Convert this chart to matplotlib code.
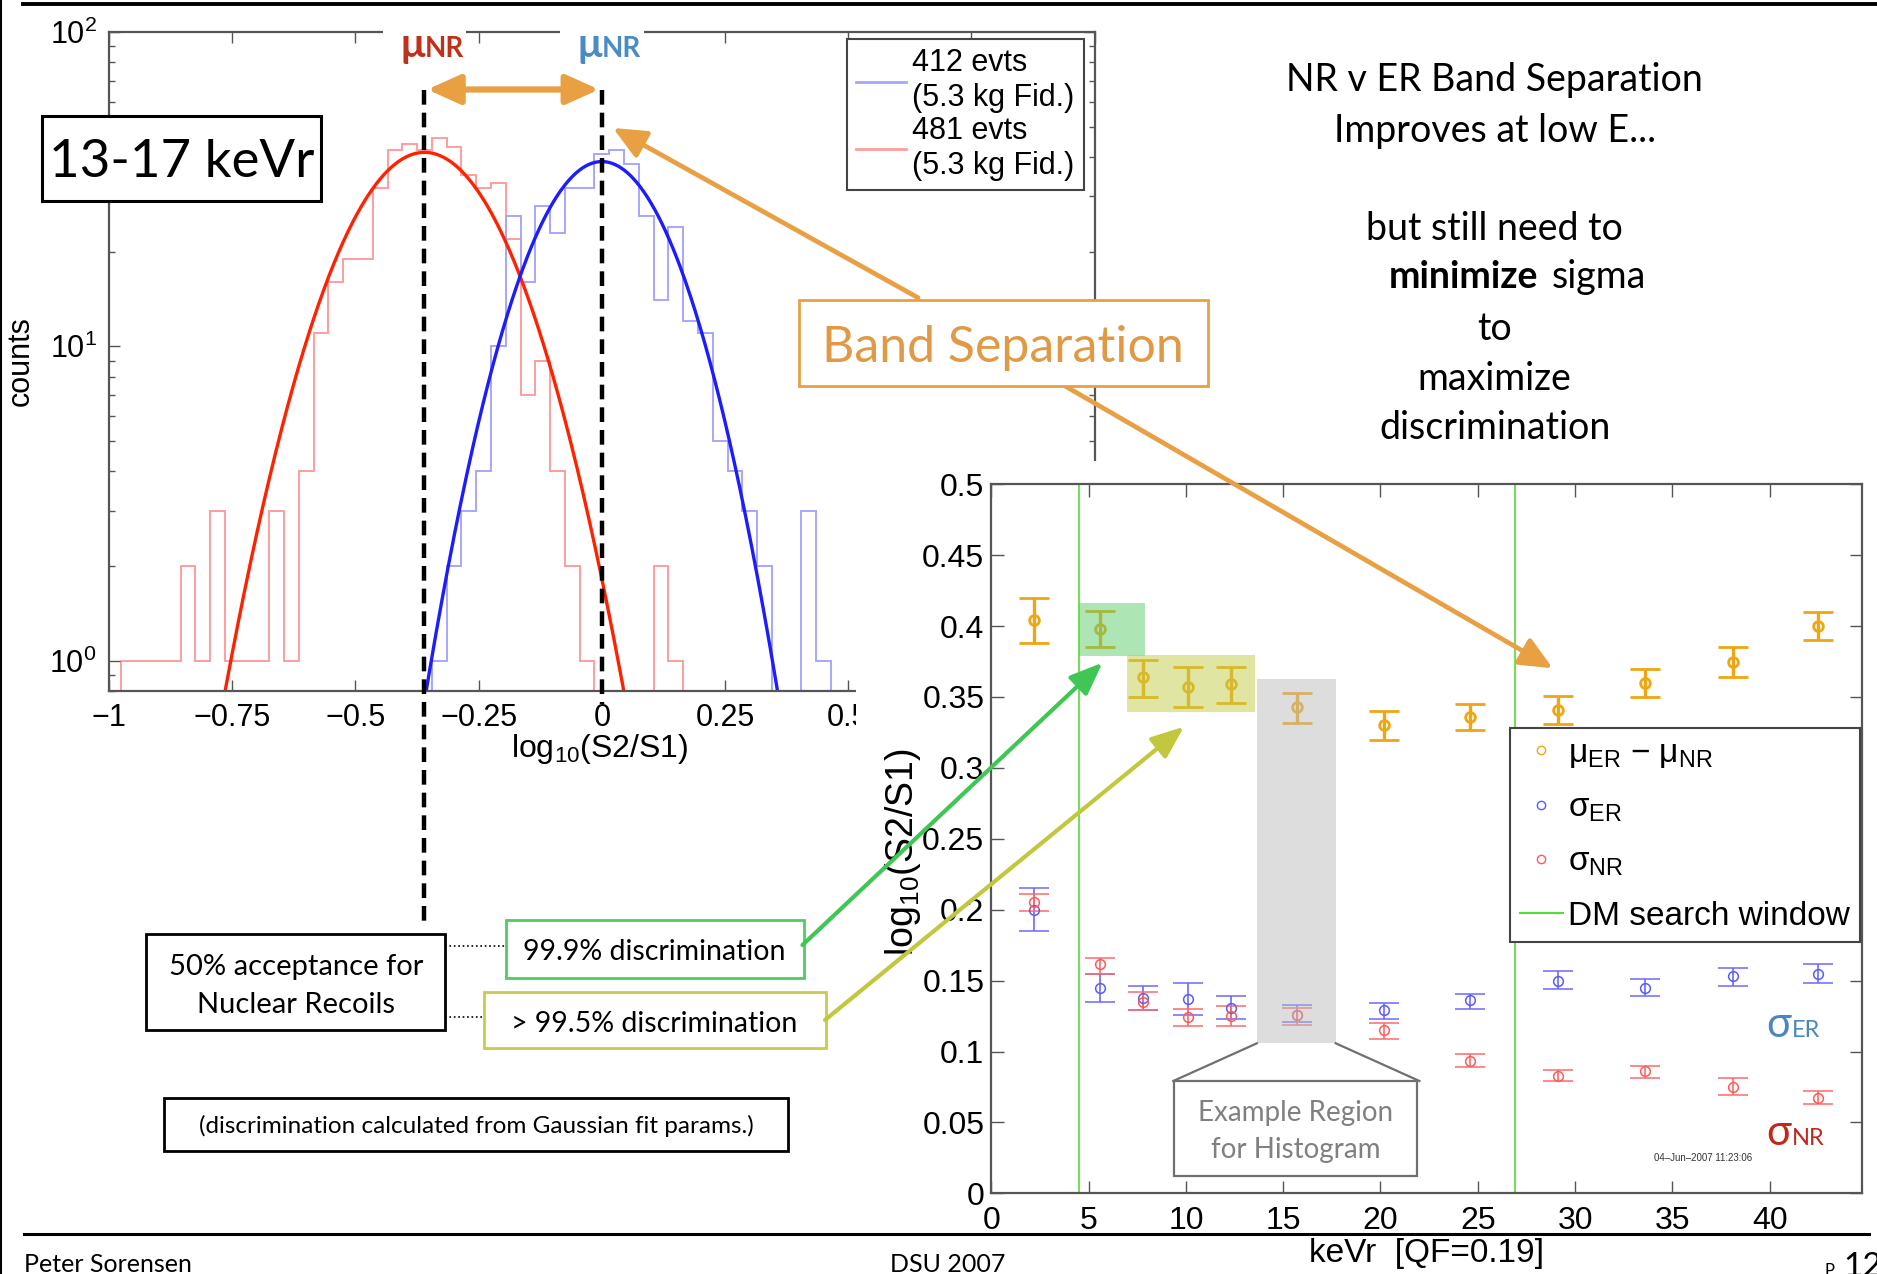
import matplotlib.pyplot as plt
import matplotlib.transforms as mtransforms
import numpy as np
from matplotlib.lines import Line2D
from matplotlib.patches import FancyArrowPatch, Rectangle
from matplotlib.ticker import FormatStrFormatter, NullFormatter

plt.rcParams['font.family'] = ['Liberation Sans', 'DejaVu Sans']
plt.rcParams['mathtext.fontset'] = 'custom'
plt.rcParams['mathtext.rm'] = 'Liberation Sans'
plt.rcParams['mathtext.it'] = 'Liberation Sans:italic'
plt.rcParams['mathtext.bf'] = 'Liberation Sans:bold'
SLIDE_FONT = ['Lato', 'DejaVu Sans']

# 13-17 keVr histogram of log10(S2/S1), 0.03 wide bins
bin_start = -0.975
bin_width = 0.03
nr_first_bin = 0
nr_counts = [1, 1, 1, 1, 2, 1, 3, 1, 1, 1, 3, 1, 4, 11, 16, 19, 19, 32, 42, 44,
             42, 46, 43, 35, 32, 33, 22, 7, 9, 4, 2, 1, 0, 0, 0, 0, 2, 1]
er_first_bin = 21
er_counts = [1, 2, 3, 4, 10, 26, 16, 28, 23, 32, 32, 41, 42, 38, 26, 14, 24,
             12, 11, 5, 4, 3, 2, 0, 0, 3, 1]
# gaussian fits: amplitude, mean, sigma
nr_fit = (41.4, -0.36, 0.144)
er_fit = (38.7, 0.0, 0.128)

# band separation vs recoil energy
energy = [2.2, 5.6, 7.8, 10.1, 12.3, 15.7, 20.2, 24.6, 29.1, 33.6, 38.1, 42.5]
sep = [0.404, 0.398, 0.364, 0.357, 0.359, 0.343, 0.330, 0.336, 0.341, 0.360, 0.375, 0.400]
sep_hi = [0.420, 0.411, 0.376, 0.371, 0.371, 0.353, 0.340, 0.345, 0.351, 0.370, 0.385, 0.410]
sep_lo = [0.388, 0.385, 0.350, 0.343, 0.346, 0.332, 0.320, 0.327, 0.331, 0.350, 0.364, 0.390]
sig_er = [0.200, 0.145, 0.1375, 0.137, 0.131, 0.126, 0.129, 0.136, 0.150, 0.145, 0.153, 0.155]
sig_er_hi = [0.215, 0.1545, 0.146, 0.1485, 0.139, 0.133, 0.134, 0.1405, 0.157, 0.151, 0.159, 0.162]
sig_er_lo = [0.185, 0.135, 0.129, 0.126, 0.123, 0.121, 0.123, 0.130, 0.144, 0.139, 0.146, 0.1485]
sig_nr = [0.2057, 0.162, 0.135, 0.124, 0.125, 0.126, 0.115, 0.093, 0.083, 0.086, 0.075, 0.067]
sig_nr_hi = [0.211, 0.166, 0.142, 0.130, 0.132, 0.131, 0.120, 0.098, 0.087, 0.090, 0.081, 0.072]
sig_nr_lo = [0.199, 0.155, 0.129, 0.118, 0.118, 0.119, 0.109, 0.089, 0.079, 0.081, 0.069, 0.063]
dm_window = [4.5, 26.9]
example_bin = [13.65, 17.7]

ORANGE = '#e9a043'
ERR_ORANGE = '#eea612'
GRAY_SPINE = '#555555'

W, H = 1877, 1274


def fx(x):
    return x / W


def fy(y):
    return 1 - y / H


def gauss(x, amp, mu, sig):
    return amp * np.exp(-(x - mu) ** 2 / (2 * sig ** 2))


fig = plt.figure(figsize=(W / 100, H / 100), dpi=100)
fig.patch.set_facecolor('white')

# ---------------- histogram panel ----------------
ax1 = fig.add_axes([fx(109.1), fy(691), (1094.6 - 109.1) / W, (691 - 32) / H])
ax1.set_yscale('log')
nr_edges = bin_start + bin_width * (nr_first_bin + np.arange(len(nr_counts) + 1))
er_edges = bin_start + bin_width * (er_first_bin + np.arange(len(er_counts) + 1))
ax1.stairs(nr_counts, nr_edges, baseline=0, color='#ff9d9d', lw=1.4)
ax1.stairs(er_counts, er_edges, baseline=0, color='#a6a6ff', lw=1.4)
xs = np.linspace(-1, 1, 800)
ax1.plot(xs, gauss(xs, *nr_fit), color='#ff2200', lw=2.4)
ax1.plot(xs, gauss(xs, *er_fit), color='#1c1cff', lw=2.4)
ax1.set_xlim(-1, 1.0)
ax1.set_ylim(0.8, 100)
# the labels past 0.5 sit under the separation panel, so they are left blank
ax1.set_xticks([-1, -0.75, -0.5, -0.25, 0, 0.25, 0.5, 0.75, 1])
ax1.set_xticklabels(['\u22121', '\u22120.75', '\u22120.5', '\u22120.25', '0', '0.25', '0.5', '', ''])
ax1.yaxis.set_minor_formatter(NullFormatter())
ax1.tick_params(which='both', direction='in', top=True, right=True, labelsize=22, width=1.0,
                color=GRAY_SPINE)
ax1.tick_params(which='major', length=8)
ax1.tick_params(which='minor', length=4)
ax1.tick_params(axis='x', pad=9)
ax1.tick_params(axis='y', pad=9)
for s in ax1.spines.values():
    s.set_color(GRAY_SPINE)
    s.set_linewidth(1.6)
ax1.set_ylabel('counts', fontsize=22)
ax1.yaxis.set_label_coords(-0.074, 0.5)
ax1.set_xlabel('log$_{10}$(S2/S1)', fontsize=23)
ax1.xaxis.set_label_coords(0.498, -0.062)
leg1 = ax1.legend([Line2D([], [], color='#a6a6ff', lw=2), Line2D([], [], color='#ff9d9d', lw=2)],
                  ['412 evts\n(5.3 kg Fid.)', '481 evts\n(5.3 kg Fid.)'],
                  loc='upper left', bbox_to_anchor=(fx(846.6), fy(39.3)), bbox_transform=fig.transFigure,
                  borderaxespad=0, fontsize=22, handlelength=1.65, handletextpad=0.2, borderpad=0.3,
                  labelspacing=0.1, fancybox=False, framealpha=1, edgecolor='#444444')
leg1.get_frame().set_linewidth(1.5)
ax1.set_zorder(0)

# white backing for the separation panel
fig.add_artist(Rectangle((fx(856), 0), 1 - fx(856), fy(461), transform=fig.transFigure,
                         facecolor='white', edgecolor='none', zorder=0.5))

# ---------------- band separation panel ----------------
ax2 = fig.add_axes([fx(991.3), fy(1193.3), (1862.5 - 991.3) / W, (1193.3 - 484.3) / H])
ax2.set_zorder(1)
ax2.patch.set_alpha(0)
for xv in dm_window:
    ax2.axvline(xv, color='#55dd33', lw=1.2, zorder=1)


def err(vals, lo, hi):
    v = np.array(vals)
    return [v - np.array(lo), np.array(hi) - v]


ax2.errorbar(energy, sig_er, yerr=err(sig_er, sig_er_lo, sig_er_hi), fmt='o', mfc='none',
             mec='#5a5aff', ecolor='#6a6aff', ms=7, mew=1.1, lw=1.2, capsize=11, capthick=1.5, zorder=3)
ax2.errorbar(energy, sig_nr, yerr=err(sig_nr, sig_nr_lo, sig_nr_hi), fmt='o', mfc='none',
             mec='#ff5a5a', ecolor='#ff6a6a', ms=7, mew=1.1, lw=1.2, capsize=11, capthick=1.5, zorder=3)
ax2.errorbar(energy, sep, yerr=err(sep, sep_lo, sep_hi), fmt='o', mfc='none',
             mec=ERR_ORANGE, ecolor=ERR_ORANGE, ms=7, mew=2.0, lw=2.4, capsize=11, capthick=2.6, zorder=4)
ax2.set_xlim(0, 44.77)
ax2.set_ylim(0, 0.5)
ax2.set_xticks(np.arange(0, 45, 5))
ax2.set_yticks(np.arange(0, 0.501, 0.05))
ax2.yaxis.set_major_formatter(FormatStrFormatter('%g'))
ax2.tick_params(direction='in', top=True, right=True, labelsize=23, length=9, width=1.0,
                color=GRAY_SPINE)
ax2.tick_params(axis='x', pad=9)
ax2.tick_params(axis='y', pad=5)
for s in ax2.spines.values():
    s.set_color(GRAY_SPINE)
    s.set_linewidth(1.6)
ax2.set_xlabel('keVr  [QF=0.19]', fontsize=24)
ax2.xaxis.set_label_coords(0.5, -0.063)
ax2.set_ylabel('log$_{10}$(S2/S1)', fontsize=27)
ax2.yaxis.set_label_coords(-0.078, 0.481)
handles2 = [Line2D([], [], ls='none', marker='o', mfc='none', mec=ERR_ORANGE, ms=6, mew=1),
            Line2D([], [], ls='none', marker='o', mfc='none', mec='#5a5aff', ms=6, mew=1),
            Line2D([], [], ls='none', marker='o', mfc='none', mec='#ff5a5a', ms=6, mew=1),
            Line2D([], [], color='#55dd33', lw=1.5)]
labels2 = ['\u03bc$_{\\rm ER}$ \u2212 \u03bc$_{\\rm NR}$', '\u03c3$_{\\rm ER}$', '\u03c3$_{\\rm NR}$',
           'DM search window']
leg2 = ax2.legend(handles2, labels2, loc='upper left', bbox_to_anchor=(fx(1509.5), fy(728)),
                  bbox_transform=fig.transFigure, borderaxespad=0, fontsize=24, handlelength=1.3,
                  handletextpad=0.15, borderpad=0.3, labelspacing=0.68, fancybox=False,
                  framealpha=1, edgecolor='#444444')
leg2.get_frame().set_linewidth(1.5)

fig.text(fx(1703), fy(1158), '04\u2013Jun\u20132007 11:23:06', fontsize=7, color='#333333',
         ha='center', va='center', zorder=3)

# ---------------- slide overlays ----------------
blend = mtransforms.blended_transform_factory(ax1.transData, fig.transFigure)
blend2 = mtransforms.blended_transform_factory(ax2.transData, fig.transFigure)

# white gaps in the top frame around the mean labels, then the labels
for mu, col in [(nr_fit[1], '#c0311c'), (er_fit[1], '#4a8bc4')]:
    fig.add_artist(Rectangle((mu - 0.085, fy(62)), 0.17, fy(18) - fy(62), transform=blend,
                             facecolor='white', edgecolor='none', zorder=0.6))
    fig.text(mu, fy(57), '\u03bc', transform=blend, fontsize=29, fontweight='bold', color=col,
             ha='right', va='baseline', family=SLIDE_FONT, zorder=5)
    fig.text(mu, fy(57), 'NR', transform=blend, fontsize=20, fontweight='bold', color=col,
             ha='left', va='baseline', family=SLIDE_FONT, zorder=5)

# dashed lines marking the two fitted means
fig.add_artist(Line2D([nr_fit[1]] * 2, [fy(89.5), fy(927)], transform=blend, color='black',
                      lw=3.2, ls=(0, (3.3, 1.8)), zorder=4))
fig.add_artist(Line2D([er_fit[1]] * 2, [fy(89.5), fy(704)], transform=blend, color='black',
                      lw=3.2, ls=(0, (3.3, 1.8)), zorder=4))
fig.add_artist(FancyArrowPatch((nr_fit[1], fy(89.5)), (er_fit[1], fy(89.5)), transform=blend,
                               arrowstyle='<|-|>,head_length=20,head_width=9', mutation_scale=1,
                               color=ORANGE, lw=4.5, shrinkA=2, shrinkB=2, zorder=5))

# energy-range tag
fig.add_artist(Rectangle((fx(42), fy(201)), fx(321) - fx(42), fy(115.7) - fy(201),
                         transform=fig.transFigure, facecolor='white', edgecolor='black',
                         lw=2.2, zorder=5))
fig.text(fx(181.5), fy(177), '13-17 keVr', fontsize=38, ha='center', va='baseline',
         family=SLIDE_FONT, zorder=6)

# Band Separation callout
fig.add_artist(Rectangle((fx(798.5), fy(386)), fx(1207.7) - fx(798.5), fy(300) - fy(386),
                         transform=fig.transFigure, facecolor='white', edgecolor=ORANGE,
                         lw=2.0, zorder=6))
fig.text(fx(1003), fy(361.7), 'Band Separation', fontsize=36, color='#e09a45', ha='center',
         va='baseline', family=SLIDE_FONT, zorder=7)
fig.add_artist(FancyArrowPatch((fx(918), fy(297.7)), (fx(613), fy(128)), transform=fig.transFigure,
                               arrowstyle='-|>,head_length=20,head_width=9', mutation_scale=1,
                               color=ORANGE, lw=3.4, shrinkA=0, shrinkB=0, zorder=5))
fig.add_artist(FancyArrowPatch((fx(1065), fy(386)), (fx(1552.7), fy(668.3)), transform=fig.transFigure,
                               arrowstyle='-|>,head_length=20,head_width=9', mutation_scale=1,
                               color=ORANGE, lw=3.4, shrinkA=0, shrinkB=0, zorder=5))

# highlighted energy bins and the example histogram bin
fig.add_artist(Rectangle((fx(1079), fy(655.7)), fx(1145) - fx(1079), fy(603.3) - fy(655.7),
                         transform=fig.transFigure, facecolor='#5ccc6c', alpha=0.5,
                         edgecolor='none', zorder=2))
fig.add_artist(Rectangle((fx(1126.7), fy(711.7)), fx(1255) - fx(1126.7), fy(655.3) - fy(711.7),
                         transform=fig.transFigure, facecolor='#c2cc44', alpha=0.5,
                         edgecolor='none', zorder=2))
fig.add_artist(Rectangle((example_bin[0], fy(1043.3)), example_bin[1] - example_bin[0],
                         fy(679) - fy(1043.3), transform=blend2, facecolor='#bdbdbd', alpha=0.5,
                         edgecolor='none', zorder=2))
fig.add_artist(Line2D([example_bin[0], example_bin[0] - 4.3], [fy(1043.3), fy(1081)], transform=blend2,
                      color='#707070', lw=1.6, zorder=2))
fig.add_artist(Line2D([example_bin[1], example_bin[1] + 4.3], [fy(1043.3), fy(1081)], transform=blend2,
                      color='#707070', lw=1.6, zorder=2))
fig.add_artist(Rectangle((fx(1174), fy(1176)), fx(1417) - fx(1174), fy(1081) - fy(1176),
                         transform=fig.transFigure, facecolor='white', edgecolor='#707070',
                         lw=1.6, zorder=2))
fig.text(fx(1295.5), fy(1121), 'Example Region', fontsize=20, color='#808080', ha='center',
         va='baseline', family=SLIDE_FONT, zorder=3)
fig.text(fx(1295.5), fy(1158), 'for Histogram', fontsize=20, color='#808080', ha='center',
         va='baseline', family=SLIDE_FONT, zorder=3)

# sigma tags inside the separation panel
fig.text(fx(1791), fy(1037), '\u03c3', fontsize=30, color='#4a86c0', ha='right', va='baseline',
         family=SLIDE_FONT, zorder=3)
fig.text(fx(1792), fy(1037), 'ER', fontsize=17, color='#4a86c0', ha='left', va='baseline',
         family=SLIDE_FONT, zorder=3)
fig.text(fx(1791), fy(1145), '\u03c3', fontsize=30, color='#c0281a', ha='right', va='baseline',
         family=SLIDE_FONT, zorder=3)
fig.text(fx(1792), fy(1145), 'NR', fontsize=17, color='#c0281a', ha='left', va='baseline',
         family=SLIDE_FONT, zorder=3)

# discrimination notes
for (x0, y0, x1, y1, ec) in [(146, 934, 445, 1030, 'black'), (506, 920, 804, 977.7, '#52cc5f'),
                             (484, 991.7, 826, 1048.3, '#c8cc4c'), (164, 1098, 788, 1150.7, 'black')]:
    fig.add_artist(Rectangle((fx(x0), fy(y1)), fx(x1) - fx(x0), fy(y0) - fy(y1),
                             transform=fig.transFigure, facecolor='white', edgecolor=ec,
                             lw=2.0, zorder=5))
fig.text(fx(295.7), fy(975), '50% acceptance for', fontsize=21, ha='center', va='baseline',
         family=SLIDE_FONT, zorder=6)
fig.text(fx(295.7), fy(1013.3), 'Nuclear Recoils', fontsize=21, ha='center', va='baseline',
         family=SLIDE_FONT, zorder=6)
fig.text(fx(654), fy(960), '99.9% discrimination', fontsize=20.5, ha='center', va='baseline',
         family=SLIDE_FONT, zorder=6)
fig.text(fx(654.6), fy(1031.7), '> 99.5% discrimination', fontsize=20.5, ha='center', va='baseline',
         family=SLIDE_FONT, zorder=6)
fig.text(fx(476), fy(1133.3), '(discrimination calculated from Gaussian fit params.)', fontsize=17.5,
         ha='center', va='baseline', family=SLIDE_FONT, zorder=6)
fig.add_artist(Line2D([fx(445), fx(506)], [fy(946)] * 2, transform=fig.transFigure, color='black',
                      lw=1.2, ls=':', zorder=5))
fig.add_artist(Line2D([fx(445), fx(484)], [fy(1017)] * 2, transform=fig.transFigure, color='black',
                      lw=1.2, ls=':', zorder=5))
fig.add_artist(FancyArrowPatch((fx(802.5), fy(945)), (fx(1102.5), fy(662.7)), transform=fig.transFigure,
                               arrowstyle='-|>,head_length=20,head_width=8', mutation_scale=1,
                               color='#3fc654', lw=3.0, shrinkA=0, shrinkB=0, zorder=6))
fig.add_artist(FancyArrowPatch((fx(825), fy(1020)), (fx(1184), fy(726.7)), transform=fig.transFigure,
                               arrowstyle='-|>,head_length=20,head_width=8', mutation_scale=1,
                               color='#c2c83e', lw=3.0, shrinkA=0, shrinkB=0, zorder=6))

# right-hand commentary
notes = [('NR v ER Band Separation', 90.7), ('Improves at low E...', 141.7),
         ('but still need to', 240), ('to', 340), ('maximize', 390), ('discrimination', 439.3)]
for line, yb in notes:
    fig.text(fx(1494.8), fy(yb), line, fontsize=27, ha='center', va='baseline',
             family=SLIDE_FONT, zorder=3)
fig.text(fx(1538), fy(288.3), 'minimize', fontsize=27, fontweight='bold', ha='right',
         va='baseline', family=SLIDE_FONT, zorder=3)
fig.text(fx(1552), fy(288.3), 'sigma', fontsize=27, ha='left', va='baseline',
         family=SLIDE_FONT, zorder=3)

# slide frame and footer
fig.add_artist(Line2D([fx(23), 1], [fy(3.7)] * 2, transform=fig.transFigure, color='black',
                      lw=2.8, zorder=8))
fig.add_artist(Line2D([fx(1), fx(1)], [0, 1], transform=fig.transFigure, color='black',
                      lw=1.5, zorder=8))
fig.add_artist(Line2D([fx(24), fx(1869)], [fy(1233.5)] * 2, transform=fig.transFigure,
                      color='black', lw=2.2, zorder=8))
fig.text(fx(24), fy(1272), 'Peter Sorensen', fontsize=18, ha='left', va='baseline',
         family=SLIDE_FONT, zorder=8)
fig.text(fx(890), fy(1272), 'DSU 2007', fontsize=18, ha='left', va='baseline',
         family=SLIDE_FONT, zorder=8)
fig.text(fx(1825), fy(1276), 'P', fontsize=12, ha='left', va='baseline',
         family=SLIDE_FONT, zorder=8)
fig.text(fx(1843), fy(1276), '12', fontsize=24, ha='left', va='baseline',
         family=SLIDE_FONT, zorder=8)

fig.savefig('out.png', dpi=100)
